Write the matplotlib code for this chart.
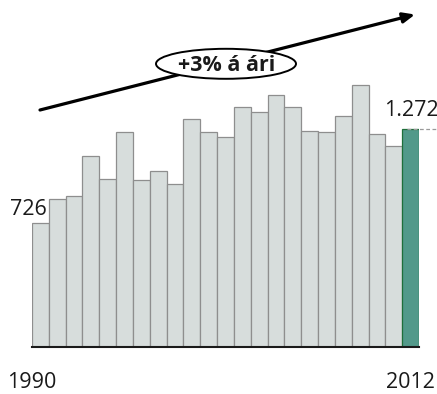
import matplotlib.pyplot as plt
from matplotlib.patches import Ellipse

plt.rcParams['font.family'] = ['Open Sans', 'DejaVu Sans']

years = list(range(1990, 2013))
values = [726, 865, 879, 1115, 982, 1253, 974, 1027, 953, 1333, 1253, 1224,
          1401, 1370, 1473, 1401, 1261, 1253, 1350, 1531, 1245, 1173, 1272]
first_label = "726"
last_label = "1.272"
trend_label = "+3% á ári"

W, H = 437, 394
fig = plt.figure(figsize=(W / 100, H / 100), dpi=100)
fig.patch.set_facecolor("white")

# bar panel, placed in pixels
left, right, base, top = 32, 419, 346.7, 73
ax = fig.add_axes([left / W, (H - base) / H, (right - left) / W, (base - top) / H])
ax.set_xlim(-0.5, len(values) - 0.5)
ax.set_ylim(0, 1600)
ax.axis("off")

colors = ["#D7DDDC"] * (len(values) - 1) + ["#52998A"]
edges = ["#8E8E8E"] * (len(values) - 1) + ["#1E6F3A"]
x = list(range(len(values)))
ax.bar(x, values, width=1.0, color=colors, edgecolor=edges, linewidth=0.9, zorder=2)
ax.plot([-0.5, len(values) - 0.5], [0, 0], color="#1A1A1A", lw=1.5, zorder=3,
        clip_on=False)

ax.text(0.35, values[0] + 12, first_label, ha="right", va="bottom",
        fontsize=15.5, color="#1A1A1A")
ax.text(20.4, values[-1] + 45, last_label, ha="left", va="bottom",
        fontsize=15.5, color="#1A1A1A", clip_on=False)
ax.plot([len(values) - 1.2, len(values) + 1.5], [values[-1]] * 2,
        color="#9A9A9A", lw=0.9, dashes=(3, 2), clip_on=False, zorder=3)

# overlay in pixel coordinates for the trend arrow and year labels
ov = fig.add_axes([0, 0, 1, 1])
ov.set_xlim(0, W)
ov.set_ylim(H, 0)
ov.axis("off")
ov.patch.set_alpha(0)

ov.annotate("", xy=(415, 14.5), xytext=(40, 110),
            arrowprops=dict(arrowstyle="-|>,head_length=0.7,head_width=0.3",
                            color="black", lw=2.3, shrinkA=0, shrinkB=0))
ov.add_patch(Ellipse((226, 63.8), 140, 30, facecolor="white",
                     edgecolor="black", lw=1.4, zorder=4))
ov.text(227, 71, trend_label, ha="center", va="baseline", fontsize=15.5,
        fontweight="bold", color="#1A1A1A", zorder=5)

ov.text(32, 383, str(years[0]), ha="center", va="center", fontsize=15.5,
        color="#1A1A1A")
ov.text(410, 383, str(years[-1]), ha="center", va="center", fontsize=15.5,
        color="#1A1A1A")

fig.savefig("out.png", dpi=100)
